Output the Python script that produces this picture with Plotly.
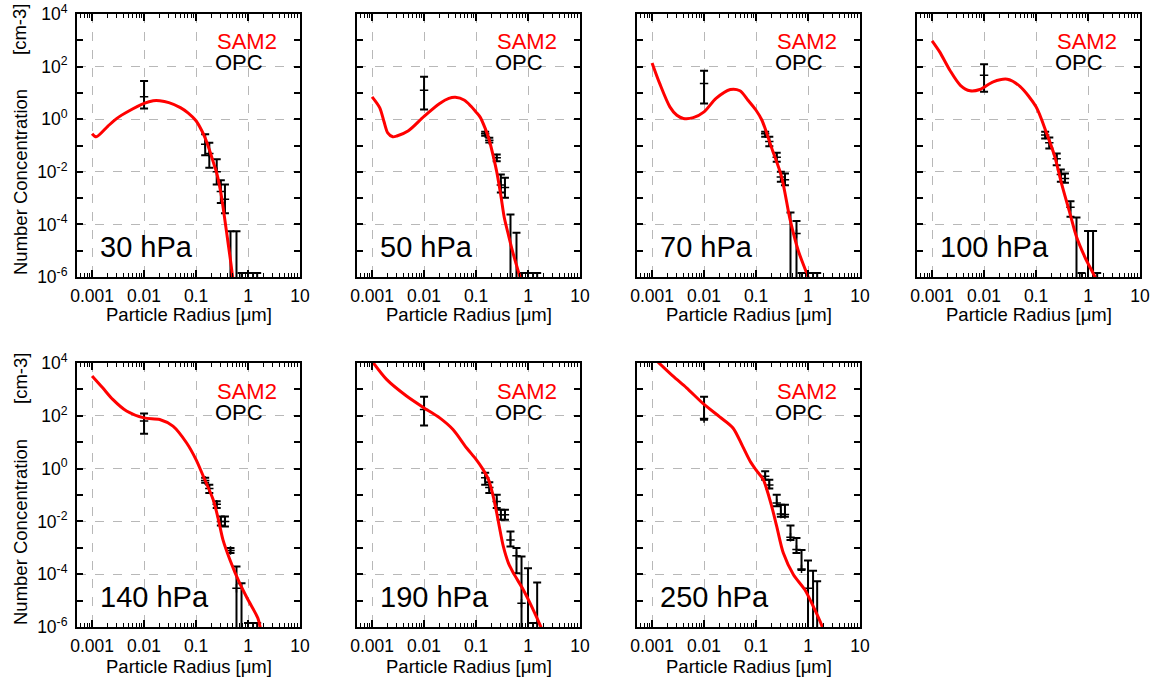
import numpy as np
import plotly.graph_objects as go

# ---------------- data ----------------
PRESSURE_LABELS = ["30 hPa", "50 hPa", "70 hPa", "100 hPa", "140 hPa", "190 hPa", "250 hPa"]

# SAM2 size distributions: radius [um] and log10 of number concentration [cm-3]
SAM2_R_30 = [0.001, 0.0012, 0.002, 0.003, 0.005, 0.01, 0.015, 0.02, 0.03, 0.05, 0.07, 0.1, 0.13, 0.15, 0.18, 0.22, 0.25, 0.3, 0.36, 0.42, 0.47, 0.52]
SAM2_LOGN_30 = [-0.55, -0.67, -0.27, 0.03, 0.30, 0.60, 0.70, 0.70, 0.63, 0.44, 0.24, -0.06, -0.45, -0.72, -1.15, -1.70, -2.05, -2.80, -3.85, -4.80, -5.50, -6.20]

SAM2_R_50 = [0.001, 0.0014, 0.0017, 0.002, 0.0025, 0.003, 0.005, 0.01, 0.02, 0.03, 0.04, 0.06, 0.08, 0.1, 0.12, 0.15, 0.18, 0.22, 0.25, 0.3, 0.35, 0.42, 0.5, 0.6, 0.7, 0.8]
SAM2_LOGN_50 = [0.85, 0.44, -0.10, -0.52, -0.67, -0.64, -0.44, 0.11, 0.60, 0.79, 0.83, 0.72, 0.49, 0.27, 0.08, -0.35, -0.80, -1.50, -2.00, -2.90, -3.75, -4.40, -5.00, -5.55, -6.00, -6.40]

SAM2_R_70 = [0.001, 0.0014, 0.0022, 0.003, 0.004, 0.0062, 0.01, 0.017, 0.032, 0.049, 0.07, 0.1, 0.13, 0.2, 0.31, 0.45, 0.65, 1.0, 1.1]
SAM2_LOGN_70 = [2.14, 1.36, 0.47, 0.15, 0.03, 0.06, 0.28, 0.79, 1.13, 1.08, 0.72, 0.34, -0.04, -1.10, -2.19, -3.80, -5.00, -6.00, -6.30]

SAM2_R_100 = [0.001, 0.0014, 0.0022, 0.0035, 0.0054, 0.0083, 0.015, 0.028, 0.049, 0.1, 0.16, 0.23, 0.31, 0.45, 0.6, 0.87, 1.36, 1.5]
SAM2_LOGN_100 = [2.98, 2.56, 1.86, 1.29, 1.08, 1.13, 1.42, 1.52, 1.25, 0.47, -0.54, -1.43, -2.45, -3.59, -4.47, -5.24, -6.00, -6.20]

SAM2_R_140 = [0.001, 0.0016, 0.0025, 0.0046, 0.01, 0.02, 0.036, 0.066, 0.1, 0.138, 0.214, 0.27, 0.33, 0.45, 0.69, 1.0, 1.55, 1.75]
SAM2_LOGN_140 = [3.51, 3.06, 2.62, 2.18, 1.92, 1.86, 1.61, 0.97, 0.34, -0.29, -1.18, -1.94, -2.70, -3.46, -4.34, -4.97, -5.67, -6.10]

SAM2_R_190 = [0.001, 0.0019, 0.0046, 0.01, 0.02, 0.036, 0.066, 0.1, 0.133, 0.174, 0.214, 0.25, 0.28, 0.335, 0.42, 0.525, 0.81, 1.26, 1.7, 1.85]
SAM2_LOGN_190 = [4.07, 3.38, 2.75, 2.30, 1.92, 1.48, 0.78, 0.35, 0.00, -0.42, -1.05, -1.68, -2.19, -2.95, -3.58, -3.96, -4.59, -5.35, -5.92, -6.10]

SAM2_R_250 = [0.001, 0.0025, 0.0046, 0.01, 0.02, 0.036, 0.055, 0.077, 0.1, 0.138, 0.2, 0.25, 0.335, 0.525, 0.87, 1.26, 1.82, 2.0]
SAM2_LOGN_250 = [4.25, 3.51, 3.06, 2.43, 1.96, 1.54, 0.85, 0.28, -0.05, -0.42, -1.43, -2.19, -3.20, -4.02, -4.59, -5.22, -5.92, -6.15]

# OPC measurements: radius [um]; log10 of concentration, upper and lower bound
OPC_R = [0.01, 0.15, 0.18, 0.25, 0.30, 0.36, 0.46, 0.60, 0.75, 1.0, 1.25, 1.5]

OPC_LOGN_30 = [0.85, -0.95, -1.30, -2.00, -2.75, -3.04, -7, -7, -7, -7, -7, -7]
OPC_HI_30 = [1.45, -0.57, -0.90, -1.52, -2.32, -2.48, -4.26, -4.26, -5.85, -5.85, -5.85, -5.85]
OPC_LO_30 = [0.41, -1.37, -1.85, -2.48, -3.19, -3.58, -8, -8, -8, -8, -8, -8]

OPC_LOGN_50 = [1.10, -0.55, -0.80, -1.47, -2.50, -2.60, -7, -7, -7, -7, -7, -7]
OPC_HI_50 = [1.61, -0.48, -0.71, -1.34, -2.10, -2.23, -3.62, -4.32, -5.85, -5.85, -5.85, -5.85]
OPC_LO_50 = [0.37, -0.63, -0.89, -1.60, -2.79, -2.99, -8, -8, -8, -8, -8, -8]

OPC_LOGN_70 = [1.36, -0.55, -0.85, -1.45, -2.20, -2.30, -7, -4.35, -7, -7, -7, -7]
OPC_HI_70 = [1.84, -0.48, -0.67, -1.28, -2.00, -2.06, -3.55, -3.87, -5.85, -5.85, -5.85, -5.85]
OPC_LO_70 = [0.60, -0.67, -1.03, -1.62, -2.38, -2.51, -8, -8, -8, -8, -8, -8]

OPC_LOGN_100 = [1.67, -0.60, -0.90, -1.50, -2.10, -2.25, -3.35, -7, -7, -7, -7, -7]
OPC_HI_100 = [2.09, -0.48, -0.70, -1.30, -1.91, -2.06, -3.12, -3.74, -5.85, -4.25, -4.25, -5.85]
OPC_LO_100 = [1.04, -0.73, -1.11, -1.75, -2.38, -2.42, -3.71, -8, -8, -8, -8, -8]

OPC_LOGN_140 = [1.80, -0.45, -0.75, -1.35, -2.00, -2.00, -3.10, -4.53, -7, -7, -7, -7]
OPC_HI_140 = [2.09, -0.35, -0.61, -1.24, -1.81, -1.81, -3.01, -3.71, -4.34, -5.85, -5.85, -5.85]
OPC_LO_140 = [1.32, -0.54, -0.92, -1.49, -2.16, -2.19, -3.20, -8, -8, -8, -8, -8]

OPC_LOGN_190 = [2.24, -0.35, -0.72, -1.25, -1.75, -1.75, -2.70, -3.30, -5.10, -7, -7, -7]
OPC_HI_190 = [2.72, -0.16, -0.52, -0.99, -1.56, -1.56, -2.38, -3.01, -3.33, -3.77, -5.85, -4.31]
OPC_LO_190 = [1.63, -0.61, -0.92, -1.49, -1.94, -1.94, -2.95, -3.96, -8, -8, -8, -8]

OPC_LOGN_250 = [1.90, -0.29, -0.62, -1.30, -1.72, -1.74, -2.60, -3.06, -3.80, -4.53, -7, -7]
OPC_HI_250 = [2.72, -0.10, -0.42, -0.99, -1.37, -1.37, -2.16, -2.63, -3.08, -3.48, -3.87, -4.27]
OPC_LO_250 = [1.85, -0.42, -0.75, -1.43, -1.82, -1.82, -2.70, -3.20, -3.84, -8, -8, -8]

X_TICKVALS = [0.001, 0.01, 0.1, 1, 10]
X_TICKTEXT = ["0.001", "0.01", "0.1", "1", "10"]
Y_TICKVALS = [1e-6, 1e-4, 1e-2, 1, 1e2, 1e4]
Y_TICKTEXT = ["10<sup>-6</sup>", "10<sup>-4</sup>", "10<sup>-2</sup>", "10<sup>0</sup>", "10<sup>2</sup>", "10<sup>4</sup>"]
Y_MINOR = [1e-5, 1e-3, 1e-1, 1e1, 1e3]
X_MINOR = [k * 10.0 ** d for d in range(-4, 1) for k in range(2, 10)]

SAM2_R = [SAM2_R_30, SAM2_R_50, SAM2_R_70, SAM2_R_100, SAM2_R_140, SAM2_R_190, SAM2_R_250]
SAM2_LOGN = [SAM2_LOGN_30, SAM2_LOGN_50, SAM2_LOGN_70, SAM2_LOGN_100, SAM2_LOGN_140, SAM2_LOGN_190, SAM2_LOGN_250]
OPC_LOGN = [OPC_LOGN_30, OPC_LOGN_50, OPC_LOGN_70, OPC_LOGN_100, OPC_LOGN_140, OPC_LOGN_190, OPC_LOGN_250]
OPC_HI = [OPC_HI_30, OPC_HI_50, OPC_HI_70, OPC_HI_100, OPC_HI_140, OPC_HI_190, OPC_HI_250]
OPC_LO = [OPC_LO_30, OPC_LO_50, OPC_LO_70, OPC_LO_100, OPC_LO_140, OPC_LO_190, OPC_LO_250]

# ---------------- figure ----------------
W, H = 1153, 678
FONT = "Liberation Sans, Arial, Helvetica, sans-serif"
fig = go.Figure()

layout = dict(
    width=W, height=H, margin=dict(l=0, r=0, t=0, b=0, autoexpand=False), autosize=False,
    paper_bgcolor="white", plot_bgcolor="white", showlegend=False,
    font=dict(family=FONT, color="black", size=17.5),
)
annotations = []

for i in range(7):
    row = 0 if i < 4 else 1
    col = i if i < 4 else i - 4
    n = i + 1
    xname = "x" if n == 1 else f"x{n}"
    yname = "y" if n == 1 else f"y{n}"
    left, right = 77 + 280 * col, 300 + 280 * col
    top, bottom = (14, 277) if row == 0 else (363, 627)

    axis_common = dict(
        type="log", showline=True, linecolor="black", linewidth=2, mirror="ticks",
        ticks="inside", tickcolor="black", tickwidth=1.5, automargin=False,
        showgrid=True, gridcolor="#b8b8b8", griddash="dash", gridwidth=1,
        zeroline=False, tickfont=dict(family=FONT, size=17.5, color="black"),
    )
    layout["xaxis" if n == 1 else f"xaxis{n}"] = dict(
        axis_common, domain=[left / W, right / W], anchor=yname,
        range=[-3.29, 1], tickmode="array", tickvals=X_TICKVALS, ticktext=X_TICKTEXT,
        ticklen=7, ticklabelstandoff=2,
        minor=dict(tickmode="array", tickvals=X_MINOR, ticks="inside", ticklen=4,
                   tickwidth=1.2, tickcolor="black", showgrid=False),
    )
    layout["yaxis" if n == 1 else f"yaxis{n}"] = dict(
        axis_common, domain=[1 - bottom / H, 1 - top / H], anchor=xname,
        range=[-6, 4], tickmode="array", tickvals=Y_TICKVALS, ticktext=Y_TICKTEXT,
        ticklen=6, showticklabels=(col == 0), ticklabelstandoff=4,
        minor=dict(tickmode="array", tickvals=Y_MINOR, ticks="inside", ticklen=6,
                   tickwidth=1.5, tickcolor="black", showgrid=False),
    )

    c = np.power(10.0, np.array(OPC_LOGN[i]))
    hi = np.power(10.0, np.array(OPC_HI[i]))
    lo = np.power(10.0, np.array(OPC_LO[i]))
    fig.add_trace(go.Scatter(
        x=OPC_R, y=c, mode="markers", xaxis=xname, yaxis=yname,
        marker=dict(symbol="cross-thin", size=6, line=dict(width=1.5, color="black"), color="black"),
        error_y=dict(type="data", symmetric=False, array=hi - c, arrayminus=c - lo,
                     color="black", thickness=2, width=4),
        cliponaxis=True,
    ))
    fig.add_trace(go.Scatter(
        x=SAM2_R[i], y=np.power(10.0, np.array(SAM2_LOGN[i])), mode="lines",
        xaxis=xname, yaxis=yname,
        line=dict(color="#ff0000", width=3, shape="spline", smoothing=0.8),
        cliponaxis=True,
    ))

    xd = "x domain" if n == 1 else f"x{n} domain"
    yd = "y domain" if n == 1 else f"y{n} domain"
    annotations.append(dict(text="SAM2", xref=xd, yref=yd, x=138 / 223, y=1 - 28 / 263,
                            xanchor="left", yanchor="middle", showarrow=False,
                            font=dict(family=FONT, size=22, color="#ff0000")))
    annotations.append(dict(text="OPC", xref=xd, yref=yd, x=136 / 223, y=1 - 49 / 263,
                            xanchor="left", yanchor="middle", showarrow=False,
                            font=dict(family=FONT, size=22, color="black")))
    annotations.append(dict(text=PRESSURE_LABELS[i], xref=xd, yref=yd, x=21 / 223, y=0.114,
                            xanchor="left", yanchor="middle", showarrow=False,
                            font=dict(family=FONT, size=29, color="black")))
    annotations.append(dict(text="Particle Radius [μm]", xref="paper", yref="paper",
                            x=(left + right) / 2 / W, y=1 - (315 if row == 0 else 666) / H,
                            xanchor="center", yanchor="middle", showarrow=False,
                            font=dict(family=FONT, size=18.5, color="black")))
    if col == 0:
        annotations.append(dict(text="Number Concentration", xref="paper", yref="paper",
                                x=20 / W, y=1 - (bottom - 95) / H, textangle=-90,
                                xanchor="center", yanchor="middle", showarrow=False,
                                font=dict(family=FONT, size=18.5, color="black")))
        annotations.append(dict(text="[cm-3]", xref="paper", yref="paper",
                                x=20 / W, y=1 - (top + 16) / H, textangle=-90,
                                xanchor="center", yanchor="middle", showarrow=False,
                                font=dict(family=FONT, size=18.5, color="black")))

layout["annotations"] = annotations
fig.update_layout(**layout)
fig.write_html("out.html")
